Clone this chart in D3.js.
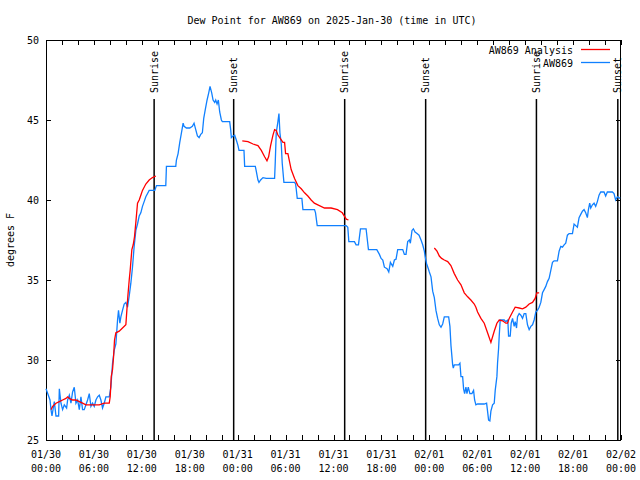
<!DOCTYPE html>
<html><head><meta charset="utf-8">
<script src="https://cdn.jsdelivr.net/npm/d3@7"></script>
<style>
html,body{margin:0;padding:0;background:#fff;}
text{font-family:"DejaVu Sans Mono","Liberation Mono",monospace;font-size:10px;fill:#000;}
</style></head>
<body>
<svg id="chart" width="640" height="480"></svg>
<script>
// ---- data (hours since 2025-01-30 00:00 UTC) ----
const title = "Dew Point for AW869 on 2025-Jan-30 (time in UTC)";
const yLabel = "degrees F";
const seriesNames = ["AW869 Analysis", "AW869"];

const obsHours = [0,0.5,0.625,0.75,1.04,1.25,1.58,1.67,1.875,2.08,2.29,2.58,2.71,2.92,3.125,3.33,3.54,3.75,3.96,4.17,4.375,4.58,4.79,5.0,5.21,5.42,5.625,5.83,6.04,6.25,6.46,6.67,6.875,7.08,7.29,7.5,7.71,7.92,8.125,8.33,8.54,8.75,8.96,9.08,9.25,9.375,9.58,9.79,10.0,10.21,10.42,10.625,10.83,11.04,11.25,11.46,11.67,11.875,12.08,12.29,12.5,12.92,13.625,
13.83,15.0,15.08,16.25,16.33,16.54,16.75,16.96,17.17,17.29,17.58,18.0,18.33,18.54,18.75,18.96,19.17,19.375,19.58,19.75,19.96,20.17,20.375,20.54,20.75,20.92,21.125,21.25,21.42,21.58,21.75,21.96,22.08,23.0,23.125,23.21,23.42,23.625,23.83,24.04,24.17,24.79,24.875,
26.21,26.33,26.54,26.67,26.875,27.17,27.58,28.625,28.71,28.83,29.04,29.17,29.29,29.46,29.58,29.79,31.125,31.25,31.33,31.46,32.04,32.17,33.625,33.75,33.96,37.58,37.79,37.92,
38.625,38.83,39.125,39.375,40.08,40.375,41.42,41.75,41.96,42.17,42.375,42.71,42.92,43.125,43.42,43.625,43.83,44.04,44.25,44.67,44.875,45.08,45.29,45.5,45.625,45.83,46.0,46.21,46.46,46.71,46.96,47.17,47.375,47.5,47.67,47.875,48.0,
48.21,48.42,48.625,48.83,49.04,49.25,49.46,49.67,49.875,50.42,50.58,50.71,50.92,51.0,51.125,51.67,51.83,51.96,52.17,52.29,52.42,52.58,52.71,52.875,53.08,53.33,53.54,53.67,53.83,54.04,54.875,55.17,55.29,55.42,55.58,55.71,55.92,56.125,56.25,56.46,56.54,56.67,56.75,56.875,57.375,57.58,57.83,57.92,58.125,58.25,58.42,58.625,58.75,58.92,59.04,59.25,
59.46,59.67,59.875,60.08,60.29,60.5,60.71,60.92,61.125,61.33,61.54,
61.75,61.96,62.17,62.375,62.58,62.79,63.0,63.21,63.42,63.625,64.04,64.25,64.46,64.67,64.875,65.08,65.29,65.5,65.92,66.125,66.33,66.54,66.75,66.96,67.17,67.375,67.58,67.79,67.92,68.08,68.21,68.42,68.625,68.83,69.04,69.25,69.46,69.875,70.08,70.29,70.92,71.125,71.33,71.54,71.9];
const obsValues = [28.2,27.5,26.9,26.5,27.4,26.5,26.5,28.2,27.3,26.9,27.2,27.0,27.5,27.8,27.3,28.0,28.3,27.3,27.5,26.9,27.7,26.9,26.9,27.2,27.5,27.9,27.1,27.3,27.1,27.5,27.7,27.8,27.5,27.0,27.3,27.7,27.7,27.7,28.3,29.8,30.6,31.0,32.5,33.1,32.3,32.7,33.1,33.5,33.6,33.3,34.0,34.8,35.8,37.1,38.1,38.5,39.0,39.2,39.6,39.9,40.2,40.6,40.6,
40.9,40.9,42.1,42.1,42.5,42.9,43.6,44.2,44.8,44.6,44.5,44.5,44.6,44.8,44.4,44.0,43.9,44.1,44.2,45.1,45.7,46.25,46.7,47.1,46.7,46.25,46.1,46.25,46.0,46.25,45.5,45.0,44.9,44.9,44.4,43.9,44.0,44.05,43.75,43.4,43.1,43.1,42.1,
42.1,41.8,41.25,41.1,41.25,41.4,41.35,41.35,42.4,44.2,44.9,45.4,44.2,43.5,42.3,41.1,41.1,41.0,40.7,40.1,40.1,39.4,39.4,39.2,38.4,38.4,38.3,37.4,
37.4,37.2,37.2,38.2,38.2,36.9,36.9,36.6,36.35,36.25,35.8,35.7,35.5,36.1,35.85,36.25,36.3,36.9,36.9,36.9,36.6,36.6,37.4,37.5,37.3,38.1,38.2,38.0,37.9,37.8,37.5,37.2,36.8,36.4,36.0,35.7,35.5,
35.2,34.3,33.9,33.1,32.6,32.2,32.05,32.25,32.7,32.7,32.1,30.9,29.7,29.5,29.7,29.7,29.8,28.96,28.96,28.2,27.9,28.3,27.9,28.3,27.9,27.9,28.1,27.5,27.2,27.25,27.25,27.3,26.8,26.25,26.2,26.8,27.2,27.3,28.1,28.96,29.8,30.7,31.5,32.5,32.5,32.4,32.5,31.5,31.5,32.3,32.6,32.1,32.4,32.0,32.7,32.9,
32.8,32.6,32.9,32.9,32.2,31.9,32.1,32.2,32.5,33.0,33.1,
33.3,33.6,34.2,34.4,34.6,34.9,35.1,35.6,36.1,36.2,36.2,36.8,37.1,37.05,37.2,37.3,37.8,37.9,37.9,38.5,38.4,38.3,38.9,39.1,39.3,39.4,39.2,38.9,39.4,39.8,39.5,39.7,39.8,39.6,39.9,40.3,40.5,40.5,40.25,40.5,40.5,40.4,40.0,40.2,40.1];

// analysis: null separates the three night segments
const anaHours = [0.625,0.83,1.25,1.67,2.08,2.5,2.71,2.92,3.33,3.75,4.17,4.58,5.0,5.42,5.83,6.25,6.67,7.29,7.92,8.04,8.17,8.33,8.46,8.58,8.75,9.17,9.58,10.0,10.125,10.25,10.42,10.54,10.75,10.92,11.08,11.25,11.46,11.67,11.875,12.08,12.5,12.92,13.33,13.75,
null,
24.58,25.29,25.92,26.54,26.96,27.375,27.67,27.875,28.125,28.42,28.625,28.83,29.04,29.33,29.67,29.875,30.0,30.29,30.7,31.125,31.54,31.96,32.375,32.79,33.2,33.6,34.04,34.875,35.7,36.5,37.1,37.6,37.875,
null,
48.625,48.96,49.25,49.54,49.875,50.3,50.7,51.125,51.54,51.96,52.375,52.8,53.2,53.625,53.83,54.04,54.46,54.875,55.29,55.71,56.125,56.46,56.75,57.17,57.58,57.79,58.0,58.42,58.75,59.25,59.67,60.08,60.5,60.92,61.25,61.46,61.75];
const anaValues = [26.9,27.1,27.3,27.4,27.5,27.6,27.7,27.6,27.5,27.5,27.4,27.3,27.2,27.2,27.2,27.2,27.2,27.3,27.3,27.7,28.96,29.4,30.2,31.25,31.7,31.8,32.0,32.2,33.1,34.0,35.0,35.6,36.9,37.2,37.7,38.6,39.8,40.0,40.3,40.6,41.0,41.25,41.4,41.5,
null,
43.7,43.65,43.5,43.4,43.1,42.7,42.45,42.7,43.4,44.06,44.4,44.35,44.06,43.85,43.6,43.6,42.9,42.9,41.9,41.35,40.9,40.7,40.45,40.25,40.0,39.8,39.7,39.5,39.5,39.4,39.2,38.8,38.75,
null,
37.0,36.8,36.5,36.35,36.25,36.15,35.9,35.4,35.0,34.7,34.2,33.95,33.75,33.5,33.3,33.0,32.6,32.3,31.7,31.1,31.8,32.3,32.5,32.45,32.3,32.3,32.6,33.0,33.3,33.25,33.2,33.3,33.5,33.6,33.85,34.2,34.2];

const sunLabels = ["Sunrise","Sunset","Sunrise","Sunset","Sunrise","Sunset"];
const sunHours = [13.54,23.5,37.4,47.54,61.41,71.6];

const xTickHours = [0,6,12,18,24,30,36,42,48,54,60,66,72];
const xTickDates = ["01/30","01/30","01/30","01/30","01/31","01/31","01/31","01/31","02/01","02/01","02/01","02/01","02/02"];
const xTickTimes = ["00:00","06:00","12:00","18:00","00:00","06:00","12:00","18:00","00:00","06:00","12:00","18:00","00:00"];
const yTicks = [25,30,35,40,45,50];

// ---- drawing ----
const W = 640, H = 480;
const M = {left:46, right:621, top:40, bottom:440};
const svg = d3.select("#chart");
svg.append("rect").attr("width",W).attr("height",H).attr("fill","#fff");

const x = d3.scaleLinear().domain([0,72]).range([M.left, M.right]);
const y = d3.scaleLinear().domain([25,50]).range([M.bottom, M.top]);

// title
svg.append("text").attr("x",332).attr("y",20).attr("dy","0.35em")
  .attr("text-anchor","middle").text(title);
// y label
svg.append("text").attr("transform","translate(10,240) rotate(-90)")
  .attr("dy","0.35em").attr("text-anchor","middle").text(yLabel);

// axes
const minorHours = d3.range(0,73,2);
const gB = svg.append("g").attr("transform",`translate(0,${M.bottom})`)
  .call(d3.axisBottom(x).tickValues(minorHours).tickSize(-5).tickFormat(""));
const gT = svg.append("g").attr("transform",`translate(0,${M.top})`)
  .call(d3.axisTop(x).tickValues(minorHours).tickSize(-5).tickFormat(""));
const gL = svg.append("g").attr("transform",`translate(${M.left},0)`)
  .call(d3.axisLeft(y).tickValues(yTicks).tickSize(-5).tickPadding(7).tickFormat(d3.format("d")));
const gR = svg.append("g").attr("transform",`translate(${M.right},0)`)
  .call(d3.axisRight(y).tickValues(yTicks).tickSize(-5).tickFormat(""));
[gB,gT,gL,gR].forEach(g=>{
  g.select(".domain").remove();
  g.selectAll("line").attr("stroke","#000").attr("stroke-width",1).attr("shape-rendering","crispEdges");
  g.selectAll("text").attr("font-family",null).attr("font-size",null).attr("fill","#000");
});
// frame
svg.append("rect").attr("x",M.left+0.5).attr("y",M.top+0.5)
  .attr("width",M.right-M.left-1).attr("height",M.bottom-M.top)
  .attr("fill","none").attr("stroke","#000").attr("stroke-width",1).attr("shape-rendering","crispEdges");

// x tick labels (two lines)
const xl = svg.append("g");
xTickHours.forEach((h,i)=>{
  const t = xl.append("text").attr("x",x(h)).attr("y",454).attr("dy","0.35em").attr("text-anchor","middle");
  t.text(xTickDates[i]);
  xl.append("text").attr("x",x(h)).attr("y",468).attr("dy","0.35em").attr("text-anchor","middle").text(xTickTimes[i]);
});

// sunrise/sunset lines
sunHours.forEach((h,i)=>{
  svg.append("line").attr("x1",x(h)).attr("x2",x(h)).attr("y1",99).attr("y2",M.bottom)
    .attr("stroke","#000").attr("stroke-width",1.5);
  svg.append("text").attr("transform",`translate(${x(h)},93) rotate(-90)`)
    .attr("dy","0.35em").attr("text-anchor","start").text(sunLabels[i]);
});

// series
const anaData = anaHours.map((h,i)=>({h, v: anaValues[i]}));
const obsData = obsHours.map((h,i)=>({h, v: obsValues[i]}));
const line = d3.line().defined(d=>d.h!==null && d.v!==null).x(d=>x(d.h)).y(d=>y(d.v));

svg.append("path").datum(obsData).attr("d",line).attr("fill","none")
  .attr("stroke","#1080ff").attr("stroke-width",1.3);
svg.append("path").datum(anaData).attr("d",line).attr("fill","none")
  .attr("stroke","#ff0000").attr("stroke-width",1.3);

// legend
const legendColors = ["#ff0000","#1080ff"];
seriesNames.forEach((n,i)=>{
  const yy = 50 + i*13;
  svg.append("text").attr("x",573).attr("y",yy).attr("dy","0.35em").attr("text-anchor","end").text(n);
  svg.append("line").attr("x1",581).attr("x2",610).attr("y1",yy-0.5).attr("y2",yy-0.5)
    .attr("stroke",legendColors[i]).attr("stroke-width",1.3);
});
</script>
</body></html>
